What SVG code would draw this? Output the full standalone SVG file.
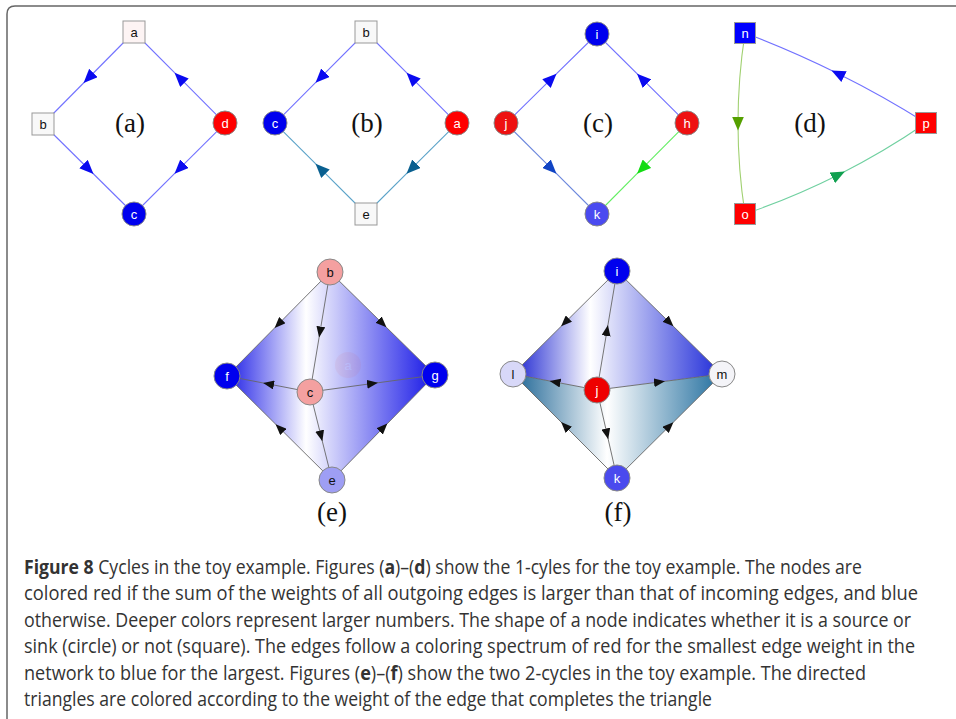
<svg xmlns="http://www.w3.org/2000/svg" width="956" height="719" viewBox="0 0 956 719">
<style>
.sq{stroke:#999;stroke-width:1}
.ci{stroke:#888;stroke-width:1}
.lb{font-family:"Liberation Sans",Arial,sans-serif;font-size:13px;text-anchor:middle}
.w{fill:#fff}
.k{fill:#111}
.pl{font-family:"Liberation Serif","Times New Roman",serif;font-size:27px;text-anchor:middle;fill:#111}
.e{fill:none;stroke-width:1.1}
.bl{stroke:#7272ff}
.te{stroke:#5aa2c8}
.db{stroke:#6a86dc}
.gr{stroke:#60ee60}
.ol{stroke:#a0d070}
.se{stroke:#70d0a0}
.g3{fill:none;stroke:#666;stroke-width:0.9}
.cap{font-family:"Open Sans","Noto Sans",sans-serif;font-size:19.5px;fill:#333}
.b{font-weight:bold}
</style>
<defs>
<marker id="mBlue" viewBox="0 0 14 12" refX="7" refY="6" markerWidth="14" markerHeight="12" markerUnits="userSpaceOnUse" orient="auto"><path d="M0,0 L14,6 L0,12 z" fill="#0a0af0"/></marker>
<marker id="mTeal" viewBox="0 0 14 12" refX="7" refY="6" markerWidth="14" markerHeight="12" markerUnits="userSpaceOnUse" orient="auto"><path d="M0,0 L14,6 L0,12 z" fill="#0a6090"/></marker>
<marker id="mDBlue" viewBox="0 0 14 12" refX="7" refY="6" markerWidth="14" markerHeight="12" markerUnits="userSpaceOnUse" orient="auto"><path d="M0,0 L14,6 L0,12 z" fill="#1044c4"/></marker>
<marker id="mGreen" viewBox="0 0 14 12" refX="7" refY="6" markerWidth="14" markerHeight="12" markerUnits="userSpaceOnUse" orient="auto"><path d="M0,0 L14,6 L0,12 z" fill="#14dc14"/></marker>
<marker id="mOlive" viewBox="0 0 14 12" refX="7" refY="6" markerWidth="14" markerHeight="12" markerUnits="userSpaceOnUse" orient="auto"><path d="M0,0 L14,6 L0,12 z" fill="#55a000"/></marker>
<marker id="mSea" viewBox="0 0 14 12" refX="7" refY="6" markerWidth="14" markerHeight="12" markerUnits="userSpaceOnUse" orient="auto"><path d="M0,0 L14,6 L0,12 z" fill="#10a050"/></marker>
<marker id="mBlk" viewBox="0 0 11 9" refX="5.5" refY="4.5" markerWidth="11" markerHeight="9" markerUnits="userSpaceOnUse" orient="auto"><path d="M0,0 L11,4.5 L0,9 z" fill="#111"/></marker>
<linearGradient id="gE" gradientUnits="userSpaceOnUse" x1="227" y1="0" x2="435" y2="0">
<stop offset="0" stop-color="#1e1ee6"/><stop offset="0.38" stop-color="#ffffff"/><stop offset="1" stop-color="#1616e6"/>
</linearGradient>
<linearGradient id="gFt" gradientUnits="userSpaceOnUse" x1="513" y1="0" x2="722" y2="0">
<stop offset="0" stop-color="#1a22d0"/><stop offset="0.37" stop-color="#ffffff"/><stop offset="1" stop-color="#1e2ad8"/>
</linearGradient>
<linearGradient id="gFb" gradientUnits="userSpaceOnUse" x1="513" y1="0" x2="722" y2="0">
<stop offset="0" stop-color="#1c6494"/><stop offset="0.45" stop-color="#ffffff"/><stop offset="1" stop-color="#226e9e"/>
</linearGradient>
</defs>

<path d="M7,719 L7,14 Q7,6 15,6 L956,6" fill="none" stroke="#666" stroke-width="1.5"/>

<g id="connectors">
<!-- (a) -->
<path class="e bl" marker-mid="url(#mBlue)" d="M134,32 L88.5,78 L43,124"/>
<path class="e bl" marker-mid="url(#mBlue)" d="M43,124 L88.5,169 L134,214"/>
<path class="e bl" marker-mid="url(#mBlue)" d="M225,123.4 L179.5,168.7 L134,214"/>
<path class="e bl" marker-mid="url(#mBlue)" d="M225,123.4 L179.5,77.7 L134,32"/>
<!-- (b) -->
<path class="e bl" marker-mid="url(#mBlue)" d="M366,32 L320.5,77.7 L275,123.4"/>
<path class="e bl" marker-mid="url(#mBlue)" d="M457,123.4 L411.5,77.7 L366,32"/>
<path class="e te" marker-mid="url(#mTeal)" d="M457,123.4 L411.5,168.7 L366,214"/>
<path class="e te" marker-mid="url(#mTeal)" d="M366,214 L320.5,168.7 L275,123.4"/>
<!-- (c) -->
<path class="e bl" marker-mid="url(#mBlue)" d="M506,123.4 L551.5,78.7 L597,34"/>
<path class="e bl" marker-mid="url(#mBlue)" d="M687,123.4 L642,78.7 L597,34"/>
<path class="e db" marker-mid="url(#mDBlue)" d="M506,123.4 L551.5,168.7 L597,214"/>
<path class="e gr" marker-mid="url(#mGreen)" d="M687,123.4 L642,168.7 L597,214"/>
<!-- (d) -->
<path class="e ol" marker-mid="url(#mOlive)" d="M745,33 Q738,78.25 738,123.5 Q738,168.75 745,214"/>
<path class="e se" marker-mid="url(#mSea)" d="M745,214 Q793.35,197.45 838.6,174.7 Q883.85,151.95 926,123"/>
<path class="e bl" marker-mid="url(#mBlue)" d="M926,123 Q883,96 837.75,73.5 Q792.5,51 745,33"/>
</g>

<g id="faces">
<polygon points="330,272 435,375 332,480 227,376" fill="url(#gE)"/>
<polygon points="617,271 722,374 597,390 513,374" fill="url(#gFt)"/>
<polygon points="513,374 597,390 722,374 617,478" fill="url(#gFb)"/>
</g>

<g id="connectors-2cycles">
<!-- (e) -->
<path class="g3" marker-mid="url(#mBlk)" d="M330,272 L278.5,324 L227,376"/>
<path class="g3" marker-mid="url(#mBlk)" d="M330,272 L320,332 L310,392"/>
<path class="g3" marker-mid="url(#mBlk)" d="M330,272 L382.5,323.5 L435,375"/>
<path class="g3" marker-mid="url(#mBlk)" d="M310,392 L268.5,384 L227,376"/>
<path class="g3" marker-mid="url(#mBlk)" d="M310,392 L372.5,383.5 L435,375"/>
<path class="g3" marker-mid="url(#mBlk)" d="M310,392 L321,436 L332,480"/>
<path class="g3" marker-mid="url(#mBlk)" d="M332,480 L279.5,428 L227,376"/>
<path class="g3" marker-mid="url(#mBlk)" d="M332,480 L383.5,427.5 L435,375"/>
<!-- (f) -->
<path class="g3" marker-mid="url(#mBlk)" d="M617,271 L565,322.5 L513,374"/>
<path class="g3" marker-mid="url(#mBlk)" d="M597,390 L607,330.5 L617,271"/>
<path class="g3" marker-mid="url(#mBlk)" d="M617,271 L669.5,322.5 L722,374"/>
<path class="g3" marker-mid="url(#mBlk)" d="M597,390 L555,382 L513,374"/>
<path class="g3" marker-mid="url(#mBlk)" d="M597,390 L659.5,382 L722,374"/>
<path class="g3" marker-mid="url(#mBlk)" d="M597,390 L607,434 L617,478"/>
<path class="g3" marker-mid="url(#mBlk)" d="M617,478 L565,426 L513,374"/>
<path class="g3" marker-mid="url(#mBlk)" d="M617,478 L669.5,426 L722,374"/>
</g>

<!-- panel (a) -->
<g id="a-a"><rect class="sq" x="123" y="21" width="22" height="22" fill="#fdf4f4"/><text class="lb k" x="134" y="36.5">a</text></g>
<g id="a-b"><rect class="sq" x="32" y="113" width="22" height="22" fill="#f8f8f8"/><text class="lb k" x="43" y="128.5">b</text></g>
<g id="a-d"><circle class="ci" cx="225" cy="123" r="12" fill="#ff0000"/><text class="lb w" x="225" y="127.5">d</text></g>
<g id="a-c"><circle class="ci" cx="134" cy="214" r="12" fill="#0000ee"/><text class="lb w" x="134" y="218.5">c</text></g>
<text class="pl" x="130" y="132">(a)</text>

<!-- panel (b) -->
<g id="b-b"><rect class="sq" x="355" y="21" width="22" height="22" fill="#f8f8f8"/><text class="lb k" x="366" y="36.5">b</text></g>
<g id="b-c"><circle class="ci" cx="275" cy="123" r="12" fill="#0000ee"/><text class="lb w" x="275" y="127.5">c</text></g>
<g id="b-a"><circle class="ci" cx="457" cy="123" r="12" fill="#ff0000"/><text class="lb w" x="457" y="127.5">a</text></g>
<g id="b-e"><rect class="sq" x="355" y="203" width="22" height="22" fill="#f8f8f8"/><text class="lb k" x="366" y="218.5">e</text></g>
<text class="pl" x="367" y="132">(b)</text>

<!-- panel (c) -->
<g id="c-i"><circle class="ci" cx="597" cy="34" r="12" fill="#0000ee"/><text class="lb w" x="597" y="38.5">i</text></g>
<g id="c-j"><circle class="ci" cx="506" cy="123" r="12" fill="#ee1111"/><text class="lb w" x="506" y="127.5">j</text></g>
<g id="c-h"><circle class="ci" cx="687" cy="123" r="12" fill="#ee1111"/><text class="lb w" x="687" y="127.5">h</text></g>
<g id="c-k"><circle class="ci" cx="597" cy="214" r="12" fill="#4a4af0"/><text class="lb w" x="597" y="218.5">k</text></g>
<text class="pl" x="598" y="132">(c)</text>

<!-- panel (d) -->
<g id="d-n"><rect class="sq" x="734.5" y="22.5" width="21" height="21" fill="#0000ff"/><text class="lb w" x="745" y="37.5">n</text></g>
<g id="d-o"><rect class="sq" x="734.5" y="203.5" width="21" height="21" fill="#ff0000"/><text class="lb w" x="745" y="218.5">o</text></g>
<g id="d-p"><rect class="sq" x="915.5" y="112.5" width="21" height="21" fill="#ff0000"/><text class="lb w" x="926" y="127.5">p</text></g>
<text class="pl" x="810" y="132">(d)</text>

<!-- panel (e) -->
<g id="e-a" opacity="0.07"><circle cx="348" cy="365" r="13" fill="#e05050"/><text class="lb w" x="348" y="369.5">a</text></g>
<g id="e-b"><circle class="ci" cx="330" cy="272" r="13" fill="#f4a0a0"/><text class="lb k" x="330" y="276.5">b</text></g>
<g id="e-f"><circle class="ci" cx="227" cy="376" r="13" fill="#0000ee"/><text class="lb w" x="227" y="380.5">f</text></g>
<g id="e-g"><circle class="ci" cx="435" cy="375" r="13" fill="#0000ee"/><text class="lb w" x="435" y="379.5">g</text></g>
<g id="e-c"><circle class="ci" cx="310" cy="392" r="13" fill="#f4a0a0"/><text class="lb k" x="310" y="396.5">c</text></g>
<g id="e-e"><circle class="ci" cx="332" cy="480" r="13" fill="#9e9ef4"/><text class="lb k" x="332" y="484.5">e</text></g>
<text class="pl" x="332" y="521">(e)</text>

<!-- panel (f) -->
<g id="f-i"><circle class="ci" cx="617" cy="271" r="13" fill="#0000ee"/><text class="lb w" x="617" y="275.5">i</text></g>
<g id="f-l"><circle class="ci" cx="513" cy="374" r="13" fill="#d8d8f8"/><text class="lb k" x="513" y="378.5">l</text></g>
<g id="f-m"><circle class="ci" cx="722" cy="374" r="13" fill="#f4f4f8"/><text class="lb k" x="722" y="378.5">m</text></g>
<g id="f-j"><circle class="ci" cx="597" cy="390" r="13" fill="#ee0000"/><text class="lb w" x="597" y="394.5">j</text></g>
<g id="f-k"><circle class="ci" cx="617" cy="478" r="13" fill="#4a4aee"/><text class="lb w" x="617" y="482.5">k</text></g>
<text class="pl" x="618" y="521">(f)</text>

<g id="caption">
<text class="cap" x="24" y="574" textLength="838" lengthAdjust="spacingAndGlyphs"><tspan class="b">Figure 8</tspan>  Cycles in the toy example. Figures (<tspan class="b">a</tspan>)–(<tspan class="b">d</tspan>) show the 1-cyles for the toy example. The nodes are</text>
<text class="cap" x="24" y="600" textLength="894" lengthAdjust="spacingAndGlyphs">colored red if the sum of the weights of all outgoing edges is larger than that of incoming edges, and blue</text>
<text class="cap" x="24" y="627" textLength="887" lengthAdjust="spacingAndGlyphs">otherwise. Deeper colors represent larger numbers. The shape of a node indicates whether it is a source or</text>
<text class="cap" x="24" y="653" textLength="891" lengthAdjust="spacingAndGlyphs">sink (circle) or not (square). The edges follow a coloring spectrum of red for the smallest edge weight in the</text>
<text class="cap" x="24" y="680" textLength="842" lengthAdjust="spacingAndGlyphs">network to blue for the largest. Figures (<tspan class="b">e</tspan>)–(<tspan class="b">f</tspan>) show the two 2-cycles in the toy example. The directed</text>
<text class="cap" x="24" y="706" textLength="688" lengthAdjust="spacingAndGlyphs">triangles are colored according to the weight of the edge that completes the triangle</text>
</g>
</svg>
